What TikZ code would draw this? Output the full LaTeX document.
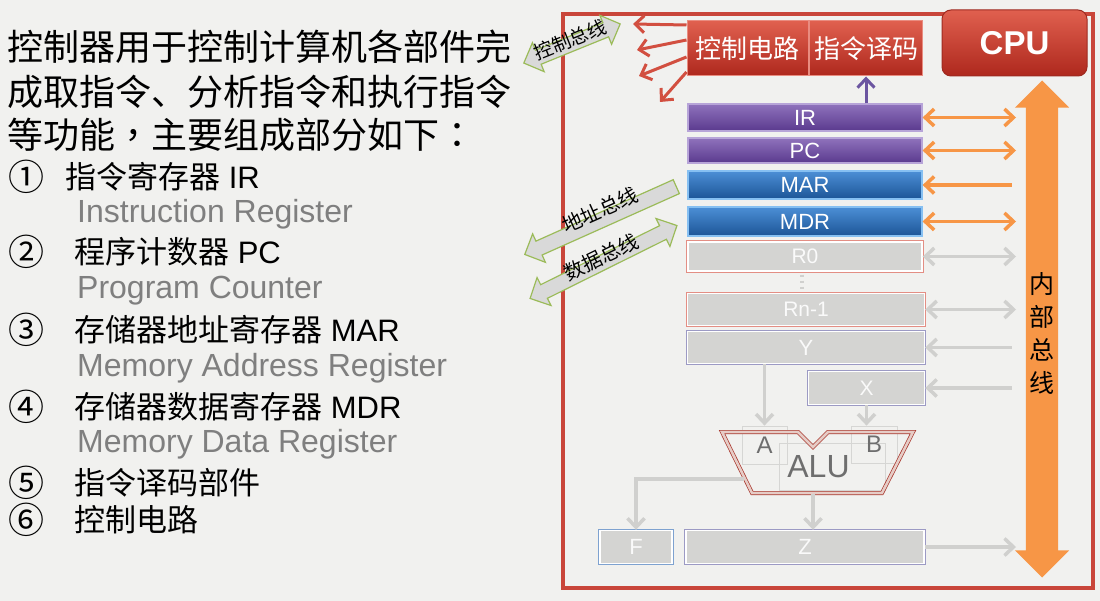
\documentclass[tikz,border=0pt]{standalone}
\usepackage{fontspec}
\setmainfont{Liberation Sans}
\newfontfamily\cjk{Noto Sans CJK SC}
\newfontfamily\cjkp{Noto Sans CJK TC}
\usetikzlibrary{positioning,arrows.meta,calc,shapes.arrows}

\definecolor{bgcol}{HTML}{F1F1EF}
\definecolor{framered}{HTML}{C9463A}
\definecolor{redtop}{HTML}{E0604F}
\definecolor{redbot}{HTML}{AE281D}
\definecolor{rededge}{HTML}{E98C80}
\definecolor{cpuedge}{HTML}{9E2A20}
\definecolor{purtop}{HTML}{8F72BC}
\definecolor{purbot}{HTML}{5A3A8E}
\definecolor{puredge}{HTML}{B7A4D8}
\definecolor{bluetop}{HTML}{4C8FD6}
\definecolor{bluebot}{HTML}{1C5597}
\definecolor{blueedge}{HTML}{86C0F2}
\definecolor{regfill}{HTML}{D4D4D2}
\definecolor{pinkedge}{HTML}{E38E84}
\definecolor{violedge}{HTML}{9C9AC4}
\definecolor{fedge}{HTML}{7EA2D0}
\definecolor{busorange}{HTML}{F79646}
\definecolor{linegray}{HTML}{D0D0CE}
\definecolor{textgray}{HTML}{7F7F7F}
\definecolor{alugray}{HTML}{6E6E6E}
\definecolor{faintgray}{HTML}{D6D6D4}
\definecolor{aluedge}{HTML}{A8352B}
\definecolor{alufill}{HTML}{E6CCC6}
\definecolor{busfill}{HTML}{D9D9D9}
\definecolor{busedge}{HTML}{9BBB59}
\definecolor{arrowred}{HTML}{D24F40}
\definecolor{arrowpur}{HTML}{6B55A0}

\tikzset{
  fnt/.style={font=\fontsize{#1}{#1}\selectfont},
  txt/.style={anchor=west, inner sep=0pt},
  reg/.style={minimum width=234pt, inner sep=0pt, text=white, fnt=22},
  purreg/.style={reg, draw=puredge, line width=1.2pt, top color=purtop, bottom color=purbot},
  bluereg/.style={reg, draw=blueedge, line width=1.2pt, top color=bluetop, bottom color=bluebot},
  grayreg/.style={reg, fill=regfill, draw=white, line width=1.4pt,
                  preaction={draw=#1, line width=3.2pt}, text=white!96!gray, fnt=21},
  redbox/.style={draw=rededge, line width=1pt, top color=redtop, bottom color=redbot,
                 text=white, inner sep=0pt, minimum height=55pt, fnt=26},
  cpubox/.style={rounded corners=9pt, draw=cpuedge, line width=1pt, top color=redtop,
                 bottom color=redbot, minimum width=145pt, minimum height=66pt,
                 text=white, font=\fontsize{33}{33}\selectfont\bfseries},
  oarr/.style={draw=busorange, line width=3.5pt},
  garr/.style={draw=linegray, line width=3.5pt},
  rarr/.style={draw=arrowred, line width=3pt, ->},
  parr/.style={draw=arrowpur, line width=3pt, ->},
  faint/.style={draw=faintgray, line width=0.8pt, inner sep=0pt, text=alugray},
  busarrow/.style={draw=busedge, fill=busfill, line width=1.2pt, inner xsep=0pt,
                   inner ysep=7pt, single arrow head extend=8pt, double arrow head extend=8pt},
  buslabel/.style={inner sep=0pt, fnt=20},
  ibus/.style={double arrow, fill=busorange, inner xsep=0pt, inner ysep=16pt,
               double arrow head extend=11pt, rotate=90, minimum height=497pt},
}

\begin{document}
\begin{tikzpicture}[x=1pt,y=-1pt,>={Straight Barb[length=9pt,width=17pt]}]
	\useasboundingbox (0,0) rectangle (1100,601);
	\fill[bgcol] (0,0) rectangle (1100,601);

	% left text
	\node[txt, fnt=36] (l1) at (7,47) {\cjk 控制器用于控制计算机各部件完};
	\node[txt, fnt=36] (l2) at (7,92) {\cjk 成取指令、分析指令和执行指令};
	\node[txt, fnt=36] (l3) at (7,135) {\cjk 等功能{\cjkp ，}主要组成部分如下{\cjkp ：}};

	\node[fnt=36] (n1) at (27,177) {\cjk ①};
	\node[txt, fnt=31] (i1) at (65,177) {{\cjk 指令寄存器} IR};
	\node[txt, fnt=32, text=textgray] (e1) at (77,214) {Instruction Register};
	\node[fnt=36] (n2) at (27,252) {\cjk ②};
	\node[txt, fnt=31] (i2) at (74,252) {{\cjk 程序计数器} PC};
	\node[txt, fnt=32, text=textgray] (e2) at (77,291) {Program Counter};
	\node[fnt=36] (n3) at (27,330) {\cjk ③};
	\node[txt, fnt=31] (i3) at (74,330) {{\cjk 存储器地址寄存器} MAR};
	\node[txt, fnt=32, text=textgray] (e3) at (77,368) {Memory Address Register};
	\node[fnt=36] (n4) at (27,407) {\cjk ④};
	\node[txt, fnt=31] (i4) at (74,407) {{\cjk 存储器数据寄存器} MDR};
	\node[txt, fnt=32, text=textgray] (e4) at (77,444) {Memory Data Register};
	\node[fnt=36] (n5) at (27,483) {\cjk ⑤};
	\node[txt, fnt=31] (i5) at (74,483) {\cjk 指令译码部件};
	\node[fnt=36] (n6) at (27,520) {\cjk ⑥};
	\node[txt, fnt=31] (i6) at (74,520) {\cjk 控制电路};

	% CPU frame
	\draw[framered, line width=4pt] (563,14) rectangle (1093,588);
	\node[cpubox] (cpu) at (1014.5,43) {CPU};

	\node[redbox, minimum width=121pt] (ctrl) at (747.5,48.5) {\cjk 控制电路};
	\node[redbox, minimum width=113pt] (dec) at (866,48.5) {\cjk 指令译码};

	% registers
	\node[purreg, minimum height=27pt] (IR) at (805,117.5) {IR};
	\node[purreg, minimum height=25pt] (PC) at (805,150.5) {PC};
	\node[bluereg, minimum height=28pt] (MAR) at (805,185) {MAR};
	\node[bluereg, minimum height=29pt] (MDR) at (805,221.5) {MDR};
	\node[grayreg=pinkedge, minimum height=29pt] (R0) at (805,256.5) {R0};
	\node[grayreg=pinkedge, minimum height=32pt, minimum width=237pt] (Rn) at (806,309.5) {Rn-1};
	\node[grayreg=violedge, minimum height=32pt, minimum width=237pt, fnt=22] (Y) at (806,347.5) {Y};
	\node[grayreg=violedge, minimum height=33pt, minimum width=116pt] (X) at (866.5,388) {X};
	\node[grayreg=fedge, minimum height=33pt, minimum width=72pt, fnt=22] (F) at (636,547) {F};
	\node[grayreg=violedge, minimum height=33pt, minimum width=238pt, fnt=22] (Z) at (805,547) {Z};

	\draw[linegray, line width=3.5pt, dash pattern=on 2.5pt off 3.5pt,
		  shorten <=3pt, shorten >=4pt] ([xshift=-3pt]R0.south) -- ([xshift=-4pt]Rn.north);

	% internal bus
	\node[ibus] (bus) at (1042,329) {};
	\node[fnt=25, align=center, font=\fontsize{25}{33}\selectfont] (bustxt) at (1042,333)
		{\cjk 内\\\cjk 部\\\cjk 总\\\cjk 线};
	\coordinate (busL) at (1016,0);

	\draw[oarr,<->] (IR.east) -- (IR.east -| busL);
	\draw[oarr,<->] (PC.east) -- (PC.east -| busL);
	\draw[oarr,<-] (MAR.east) -- ([xshift=-4pt]MAR.east -| busL);
	\draw[oarr,<->] (MDR.east) -- (MDR.east -| busL);
	\draw[garr,<->] (R0.east) -- (R0.east -| busL);
	\draw[garr,<->] (Rn.east) -- (Rn.east -| busL);
	\draw[garr,<-] (Y.east) -- ([xshift=-4pt]Y.east -| busL);
	\draw[garr,<-] (X.east) -- ([xshift=-4pt]X.east -| busL);
	\draw[garr,->] (Z.east) -- (Z.east -| busL);

	% control signals
	\coordinate (ct1) at (633,24);
	\coordinate (ct2) at (637,50);
	\coordinate (ct3) at (639,76);
	\coordinate (ct4) at (660,102);
	\draw[rarr] ([yshift=23.5pt]ctrl.west) -- (ct1);
	\draw[rarr] ([yshift=8.5pt]ctrl.west) -- (ct2);
	\draw[rarr] ([yshift=-8.5pt]ctrl.west) -- (ct3);
	\draw[rarr] ([yshift=-23.5pt]ctrl.west) -- (ct4);
	\draw[parr] (IR.north -| dec.south) -- (dec.south);

	% ALU
	\draw[faintgray, line width=0.8pt] (779,443) rectangle (885,490);
	\node[faint, minimum width=45pt, minimum height=38pt, fnt=24] (A) at (764.5,445) {A};
	\node[faint, minimum width=46pt, minimum height=37pt, fnt=24] (B) at (874,444.5) {B};
	\draw[aluedge, line width=0.7pt, double=alufill, double distance=2.6pt]
		(722,432) -- (798,432) -- (813,447) -- (828,432) -- (913,432)
		-- (882,493) -- (752,493) -- cycle;
	\node[inner sep=0pt, text=alugray, fnt=32] (alu) at (818.5,467) {ALU};

	\draw[garr,->] (A.north |- Y.south) -- (A.north);
	\draw[garr,->] (X.south) -- (X.south |- B.north);
	\coordinate (aluL) at (744,479);
	\coordinate (aluB) at (813,494);
	\draw[garr,->] (aluL) -| (F.north);
	\draw[garr,->] (aluB) -- (aluB |- Z.north);

	% system buses
	\node[busarrow, double arrow, rotate=22.1, minimum height=104pt] (cbus) at (572,43.5) {};
	\node[buslabel, fnt=19, rotate=22] (cbustxt) at (570,40) {\cjk 控制总线};
	\node[busarrow, single arrow, rotate=204.1, minimum height=166pt] (abus) at (604,219) {};
	\node[buslabel, rotate=24] (abustxt) at (600,210) {\cjk 地址总线};
	\node[busarrow, double arrow, rotate=26.4, minimum height=164pt] (dbus) at (603.5,262) {};
	\node[buslabel, rotate=26] (dbustxt) at (601,257) {\cjk 数据总线};
\end{tikzpicture}
\end{document}
